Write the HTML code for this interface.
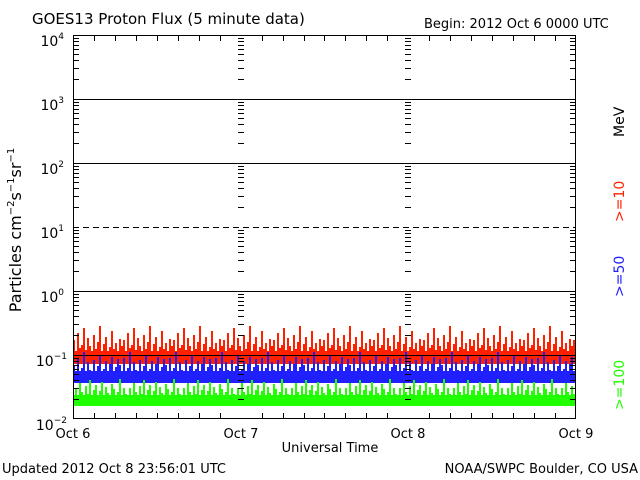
<!DOCTYPE html><html><head><style>body{margin:0;background:#fff}svg{display:block}text{font-family:"DejaVu Sans","Liberation Sans",sans-serif}</style></head><body>
<svg width="640" height="480" xmlns="http://www.w3.org/2000/svg">
<defs>
<pattern id="pr" patternUnits="userSpaceOnUse" x="73" y="0" width="50" height="480">
<path stroke="#ff2000" stroke-width="2" fill="none" d="M1 364V340M3 364V352M5 364V333M7 364V348M9 364V345M11 364V328M13 364V350M15 364V338M17 364V346M19 364V355M21 364V335M23 364V349M25 364V342M27 364V326M29 364V351M31 364V344M33 364V337M35 364V353M37 364V347M39 364V331M41 364V349M43 364V343M45 364V354M47 364V339M49 364V346"/>
</pattern>
<pattern id="pb" patternUnits="userSpaceOnUse" x="73" y="0" width="46" height="480">
<path stroke="#2020ff" stroke-width="2" fill="none" d="M1 383V365M3 383V372M5 383V358M7 383V376M9 383V368M11 383V352M13 383V374M15 383V362M17 383V370M19 383V377M21 383V360M23 383V371M25 383V366M27 383V355M29 383V375M31 383V369M33 383V361M35 383V378M37 383V364M39 383V357M41 383V373M43 383V367M45 383V359"/>
</pattern>
<pattern id="pg" patternUnits="userSpaceOnUse" x="73" y="0" width="54" height="480">
<path stroke="#20ff00" stroke-width="2" fill="none" d="M1 406V395M3 406V388M5 406V399M7 406V383M9 406V392M11 406V397M13 406V386M15 406V394M17 406V380M19 406V398M21 406V390M23 406V385M25 406V396M27 406V391M29 406V382M31 406V399M33 406V387M35 406V393M37 406V396M39 406V384M41 406V389M43 406V397M45 406V392M47 406V379M49 406V395M51 406V388M53 406V394"/>
</pattern>
<pattern id="mt" patternUnits="userSpaceOnUse" x="0" y="35" width="640" height="64">
<path stroke="#000" stroke-width="1" fill="none" d="M0 3.5H640M0 6.5H640M0 10.5H640M0 14.5H640M0 19.5H640M0 25.5H640M0 33.5H640M0 44.5H640"/>
</pattern>
</defs>
<rect width="640" height="480" fill="#fff"/>
<text x="32" y="24" font-size="15">GOES13 Proton Flux (5 minute data)</text>
<text x="424" y="28" font-size="13">Begin: 2012 Oct 6 0000 UTC</text>
<rect x="73" y="320" width="503" height="45" fill="url(#pr)"/>
<rect x="74" y="351" width="501" height="13" fill="#ff2000"/>
<rect x="73" y="348" width="503" height="36" fill="url(#pb)"/>
<rect x="74" y="371" width="501" height="12" fill="#2020ff"/>
<rect x="73" y="376" width="503" height="31" fill="url(#pg)"/>
<rect x="74" y="395" width="501" height="10" fill="#20ff00"/>
<g stroke="#000" fill="none">
<rect x="73.5" y="35.5" width="502" height="383"/>
<path d="M73 99.5H576M73 163.5H576M73 291.5H576M73 355.5H576"/>
<path d="M73 227.5H576" stroke-dasharray="6,4"/>
<path d="M94.5 419v-6M115.5 419v-6M136.5 419v-6M157.5 419v-6M178.5 419v-6M199.5 419v-6M220.5 419v-6M262.5 419v-6M283.5 419v-6M304.5 419v-6M324.5 419v-6M345.5 419v-6M366.5 419v-6M387.5 419v-6M429.5 419v-6M450.5 419v-6M471.5 419v-6M492.5 419v-6M513.5 419v-6M534.5 419v-6M555.5 419v-6M94.5 35v6M115.5 35v6M136.5 35v6M157.5 35v6M178.5 35v6M199.5 35v6M220.5 35v6M262.5 35v6M283.5 35v6M304.5 35v6M324.5 35v6M345.5 35v6M366.5 35v6M387.5 35v6M429.5 35v6M450.5 35v6M471.5 35v6M492.5 35v6M513.5 35v6M534.5 35v6M555.5 35v6"/>
</g>
<rect x="73" y="35" width="6" height="384" fill="url(#mt)"/>
<rect x="238" y="35" width="6" height="384" fill="url(#mt)"/>
<rect x="405" y="35" width="6" height="384" fill="url(#mt)"/>
<rect x="570" y="35" width="6" height="384" fill="url(#mt)"/>
<g font-size="14" text-anchor="end">
<text x="64" y="46">10<tspan font-size="9" dy="-7">4</tspan></text>
<text x="64" y="110">10<tspan font-size="9" dy="-7">3</tspan></text>
<text x="64" y="174">10<tspan font-size="9" dy="-7">2</tspan></text>
<text x="64" y="238">10<tspan font-size="9" dy="-7">1</tspan></text>
<text x="64" y="302">10<tspan font-size="9" dy="-7">0</tspan></text>
<text x="67" y="366">10<tspan font-size="9" dy="-7">−1</tspan></text>
<text x="67" y="430">10<tspan font-size="9" dy="-7">−2</tspan></text>
</g>
<g font-size="13" text-anchor="middle">
<text x="73" y="438">Oct 6</text><text x="241" y="438">Oct 7</text><text x="408" y="438">Oct 8</text><text x="576" y="438">Oct 9</text>
<text x="330" y="452">Universal Time</text>
</g>
<text x="2" y="473" font-size="13">Updated 2012 Oct  8 23:56:01 UTC</text>
<text x="638" y="473" font-size="13" text-anchor="end">NOAA/SWPC Boulder, CO USA</text>
<text transform="translate(21,230) rotate(-90)" font-size="16" text-anchor="middle">Particles cm<tspan font-size="10" dy="-7">−2</tspan><tspan dy="7">s</tspan><tspan font-size="10" dy="-7">−1</tspan><tspan dy="7">sr</tspan><tspan font-size="10" dy="-7">−1</tspan></text>
<g font-size="14">
<text transform="translate(624,137) rotate(-90)" fill="#000">MeV</text>
<text transform="translate(624,222) rotate(-90)" fill="#ff2000">&gt;=10</text>
<text transform="translate(624,297) rotate(-90)" fill="#2020ff">&gt;=50</text>
<text transform="translate(624,410) rotate(-90)" fill="#20ff00">&gt;=100</text>
</g>
</svg></body></html>
